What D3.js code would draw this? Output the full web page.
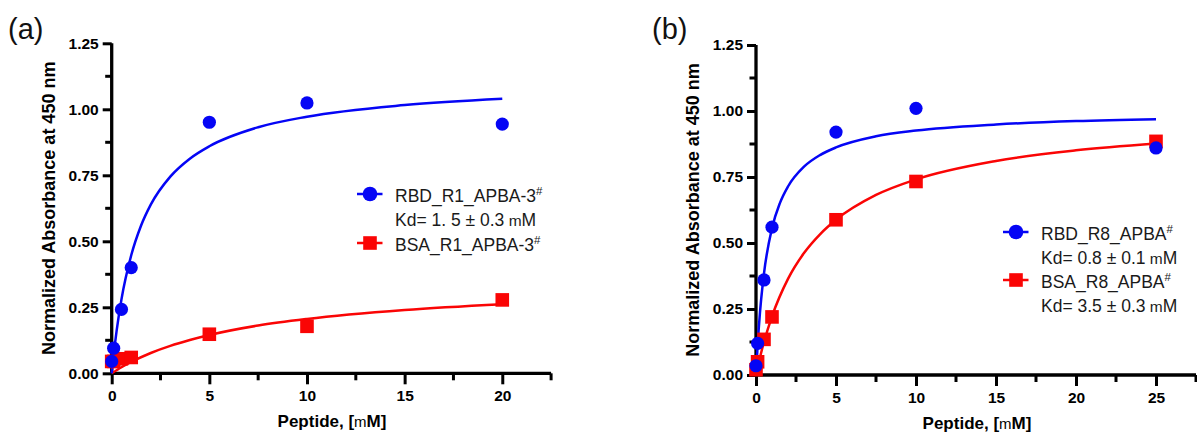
<!DOCTYPE html>
<html>
<head>
<meta charset="utf-8">
<script src="https://cdn.jsdelivr.net/npm/d3@7"></script>
<style>
  body { margin: 0; background: #fff; }
  svg { display: block; font-family: "Liberation Sans", Arial, sans-serif; }
</style>
</head>
<body>
<div id="chart"></div>
<script>
// panel (a) data
const aRbdX = [0, 0.1, 0.5, 1, 5, 10, 20];
const aRbdY = [0.045, 0.095, 0.242, 0.40, 0.951, 1.024, 0.944];
const aBsaX = [0, 0.1, 0.5, 1, 5, 10, 20];
const aBsaY = [0.045, 0.045, 0.055, 0.06, 0.148, 0.178, 0.278];
// fitted curves
const aRbdFitX = [0, 0.1, 0.25, 0.5, 1, 1.5, 2, 3, 4, 5, 7.5, 10, 15, 20];
const aRbdFitY = [0, 0.07, 0.16, 0.28, 0.447, 0.559, 0.639, 0.745, 0.813, 0.86, 0.932, 0.972, 1.016, 1.04];
const aBsaFitX = [0, 0.5, 1, 2, 3, 4, 5, 7.5, 10, 15, 20];
const aBsaFitY = [0, 0.023, 0.043, 0.077, 0.104, 0.126, 0.145, 0.181, 0.206, 0.24, 0.262];

// panel (b) data
const bRbdX = [0, 0.1, 0.5, 1, 5, 10, 25];
const bRbdY = [0.035, 0.12, 0.36, 0.56, 0.92, 1.01, 0.86];
const bBsaX = [0, 0.1, 0.5, 1, 5, 10, 25];
const bBsaY = [0.02, 0.05, 0.135, 0.22, 0.588, 0.733, 0.885];
const bRbdFitX = [0, 0.1, 0.25, 0.5, 1, 1.5, 2, 3, 4, 5, 7.5, 10, 15, 20, 25];
const bRbdFitY = [0, 0.111, 0.238, 0.385, 0.556, 0.652, 0.714, 0.789, 0.833, 0.862, 0.904, 0.926, 0.949, 0.962, 0.969];
const bBsaFitX = [0, 0.25, 0.5, 1, 2, 3, 4, 5, 7.5, 10, 15, 20, 25];
const bBsaFitY = [0, 0.067, 0.125, 0.222, 0.364, 0.462, 0.533, 0.588, 0.682, 0.741, 0.811, 0.851, 0.877];

const yTicks = [0, 0.25, 0.5, 0.75, 1.0, 1.25];
const aXTicks = [0, 5, 10, 15, 20];
const bXTicks = [0, 5, 10, 15, 20, 25];

const BLUE = "#0505f5";
const RED = "#fa0505";

const svg = d3.select("#chart").append("svg")
    .attr("width", 1197)
    .attr("height", 436);

const zip = (xs, ys) => xs.map((x, i) => [x, ys[i]]);

function drawPanel(opt) {
    const x = d3.scaleLinear().domain([0, opt.xMax]).range([opt.left, opt.right]);
    const y = d3.scaleLinear().domain([0, 1.25]).range([opt.bottom, opt.top]);
    const g = svg.append("g");

    // panel letter
    g.append("text")
        .attr("x", opt.letterX).attr("y", 39)
        .attr("font-size", 29)
        .attr("fill", "#111")
        .text(opt.letter);

    // y axis with minor ticks between labels
    const yAxis = d3.axisLeft(y).tickValues(yTicks).tickSize(9).tickFormat(d3.format(".2f"));
    const yg = g.append("g").attr("transform", `translate(${opt.left},0)`).call(yAxis);
    yg.selectAll(".minor").data(d3.range(0.125, 1.25, 0.25)).enter().append("line")
        .attr("x1", 0).attr("x2", -6.5)
        .attr("y1", d => y(d)).attr("y2", d => y(d))
        .attr("stroke", "#000").attr("stroke-width", 3);

    // x axis
    const xAxis = d3.axisBottom(x).tickValues(opt.xTicks).tickSize(11).tickFormat(d3.format("d"));
    const xg = g.append("g").attr("transform", `translate(0,${opt.bottom})`).call(xAxis);
    xg.selectAll(".minor").data(d3.range(2.5, opt.xMax + 0.1, 5)).enter().append("line")
        .attr("y1", 0).attr("y2", 7)
        .attr("x1", d => x(d)).attr("x2", d => x(d))
        .attr("stroke", "#000").attr("stroke-width", 3);

    [yg, xg].forEach(a => {
        a.select(".domain").attr("stroke-width", 3.3).attr("stroke", "#000");
        a.selectAll(".tick line").attr("stroke-width", 3).attr("stroke", "#000");
        a.selectAll("text").attr("font-size", 15.5).attr("font-weight", "bold")
            .attr("fill", "#000").attr("font-family", "'Liberation Sans', Arial, sans-serif");
    });
    yg.select(".domain").attr("d", `M0,${opt.top}V${opt.bottom + 1.6}`);
    xg.select(".domain").attr("d", `M${opt.left - 1.6},0H${opt.right}`);
    yg.selectAll(".tick text").attr("x", -13);
    xg.selectAll(".tick text").attr("y", 16.5);

    // axis titles
    g.append("text")
        .attr("transform", `translate(${opt.yTitleX},${(opt.top + opt.bottom) / 2}) rotate(-90)`)
        .attr("text-anchor", "middle")
        .attr("font-size", 18).attr("font-weight", "bold")
        .text("Normalized Absorbance at 450 nm");

    const xt = g.append("text")
        .attr("x", opt.xTitleX).attr("y", opt.xTitleY)
        .attr("text-anchor", "middle")
        .attr("font-size", 17).attr("font-weight", "bold");
    xt.append("tspan").text("Peptide, [");
    xt.append("tspan").attr("font-weight", "normal").attr("font-size", 15).text("m");
    xt.append("tspan").text("M]");

    // fitted curves
    const line = d3.line().x(d => x(d[0])).y(d => y(d[1])).curve(d3.curveMonotoneX);
    opt.series.forEach(s => {
        g.append("path")
            .datum(zip(s.fitX, s.fitY))
            .attr("d", line)
            .attr("fill", "none")
            .attr("stroke", s.color)
            .attr("stroke-width", 2.5);
    });

    // markers
    opt.series.forEach(s => {
        const pts = zip(s.x, s.y);
        if (s.shape === "circle") {
            g.selectAll(null).data(pts).enter().append("circle")
                .attr("cx", d => x(d[0])).attr("cy", d => y(d[1]))
                .attr("r", 6.6).attr("fill", s.color);
        } else {
            g.selectAll(null).data(pts).enter().append("rect")
                .attr("x", d => x(d[0]) - 6.8).attr("y", d => y(d[1]) - 6.8)
                .attr("width", 13.6).attr("height", 13.6).attr("fill", s.color);
        }
    });

    // legend
    const lg = g.append("g").attr("transform", `translate(${opt.legX},0)`);
    opt.legend.forEach(item => {
        const row = lg.append("g").attr("transform", `translate(0,${item.y})`);
        row.append("line").attr("x1", -13).attr("x2", 12.5).attr("y1", 0).attr("y2", 0)
            .attr("stroke", item.color).attr("stroke-width", 2.5);
        if (item.shape === "circle") {
            row.append("circle").attr("r", 7.3).attr("fill", item.color);
        } else {
            row.append("rect").attr("x", -6.8).attr("y", -6.8).attr("width", 13.6).attr("height", 13.6).attr("fill", item.color);
        }
        item.lines.forEach((txt, i) => {
            const t = row.append("text")
                .attr("x", 25).attr("y", 8 + i * 23.5)
                .attr("font-size", 17.5).attr("fill", "#1a1a1a");
            if (i === 0) {
                t.append("tspan").text(txt);
                t.append("tspan").attr("dy", -7).attr("font-size", 11.5).text("#");
            } else {
                t.append("tspan").text(txt);
                t.append("tspan").attr("font-size", 15.5).text(" m");
                t.append("tspan").text("M");
            }
        });
    });
}

drawPanel({
    letter: "(a)", letterX: 8,
    left: 111.7, right: 551.1, top: 43.3, bottom: 373.3, xMax: 22.5,
    xTicks: aXTicks, yTitleX: 54.5, xTitleX: 332, xTitleY: 427,
    series: [
        { x: aBsaX, y: aBsaY, fitX: aBsaFitX, fitY: aBsaFitY, color: RED, shape: "square" },
        { x: aRbdX, y: aRbdY, fitX: aRbdFitX, fitY: aRbdFitY, color: BLUE, shape: "circle" }
    ],
    legX: 370,
    legend: [
        { color: BLUE, shape: "circle", y: 194, lines: ["RBD_R1_APBA-3", "Kd= 1. 5 \u00b1 0.3"] },
        { color: RED, shape: "square", y: 243, lines: ["BSA_R1_APBA-3"] }
    ]
});

drawPanel({
    letter: "(b)", letterX: 652,
    left: 756, right: 1196, top: 45, bottom: 375, xMax: 27.5,
    xTicks: bXTicks, yTitleX: 699, xTitleX: 977, xTitleY: 429,
    series: [
        { x: bBsaX, y: bBsaY, fitX: bBsaFitX, fitY: bBsaFitY, color: RED, shape: "square" },
        { x: bRbdX, y: bRbdY, fitX: bRbdFitX, fitY: bRbdFitY, color: BLUE, shape: "circle" }
    ],
    legX: 1016,
    legend: [
        { color: BLUE, shape: "circle", y: 232, lines: ["RBD_R8_APBA", "Kd= 0.8 \u00b1 0.1"] },
        { color: RED, shape: "square", y: 280, lines: ["BSA_R8_APBA", "Kd= 3.5 \u00b1 0.3"] }
    ]
});
</script>
</body>
</html>
